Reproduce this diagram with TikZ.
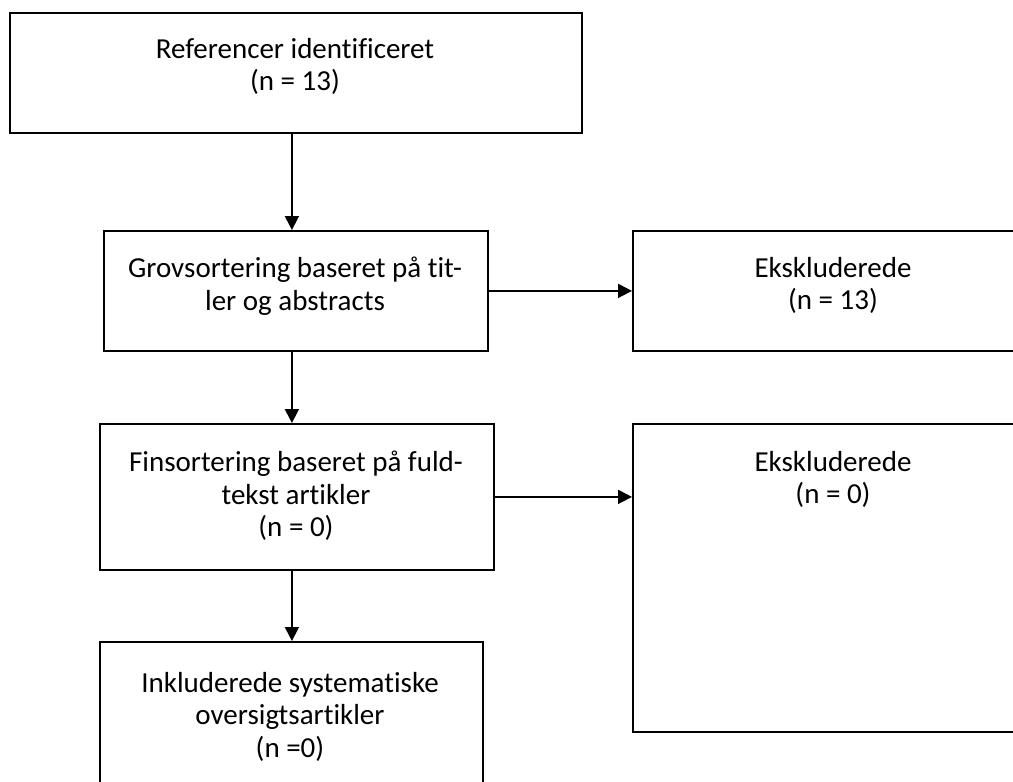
\documentclass[tikz,border=0pt]{standalone}
\usepackage{fontspec}
\setmainfont{Carlito}[Ligatures={NoCommon}]
\usetikzlibrary{arrows.meta}
\tikzset{
  box/.style={draw=black, line width=1.8pt, rectangle, anchor=north west, inner sep=0pt},
  txt/.style={anchor=north, align=center, inner sep=0pt, font=\fontsize{29}{32.5}\selectfont},
  arr/.style={line width=1.8pt, -{Triangle[length=14pt,width=14pt]}}
}
\begin{document}
\begin{tikzpicture}[x=1pt,y=-1pt]
\useasboundingbox (0,0) rectangle (1013,782);
\clip (0,0) rectangle (1013,782);
% boxes
\node[box, minimum width=572pt, minimum height=120pt] (b1) at (9,12) {};
\node[box, minimum width=384pt, minimum height=120pt] (b2) at (103,230) {};
\node[box, minimum width=402pt, minimum height=120pt] (e1) at (632,230) {};
\node[box, minimum width=394pt, minimum height=146pt] (b3) at (99,423) {};
\node[box, minimum width=402pt, minimum height=308pt] (e2) at (632,423) {};
\node[box, minimum width=383pt, minimum height=160pt] (b4) at (99,641) {};
% texts
\node[txt] (t1) at (295,38) {Referencer identificeret\\(n = 13)};
\node[txt] (t2) at (295,257) {Grovsortering baseret på tit-\\ler og abstracts};
\node[txt] (t3) at (833,257) {Ekskluderede\\(n = 13)};
\node[txt] (t4) at (296,451) {Finsortering baseret på fuld-\\tekst artikler\\(n = 0)};
\node[txt] (t5) at (833,451) {Ekskluderede\\(n = 0)};
\node[txt] (t6) at (290,672) {Inkluderede systematiske\\oversigtsartikler\\(n =0)};
% arrows
\draw[arr] ([xshift=-4pt]b1.south) -- ([xshift=-4pt]b1.south |- b2.north);
\draw[arr] ([xshift=-4pt]b2.south) -- ([xshift=-4pt]b2.south |- b3.north);
\draw[arr] ([xshift=-5pt]b3.south) -- ([xshift=-5pt]b3.south |- b4.north);
\draw[arr] (b2.east) -- (b2.east -| e1.west);
\draw[arr] (b3.east) -- (b3.east -| e2.west);
\end{tikzpicture}
\end{document}
